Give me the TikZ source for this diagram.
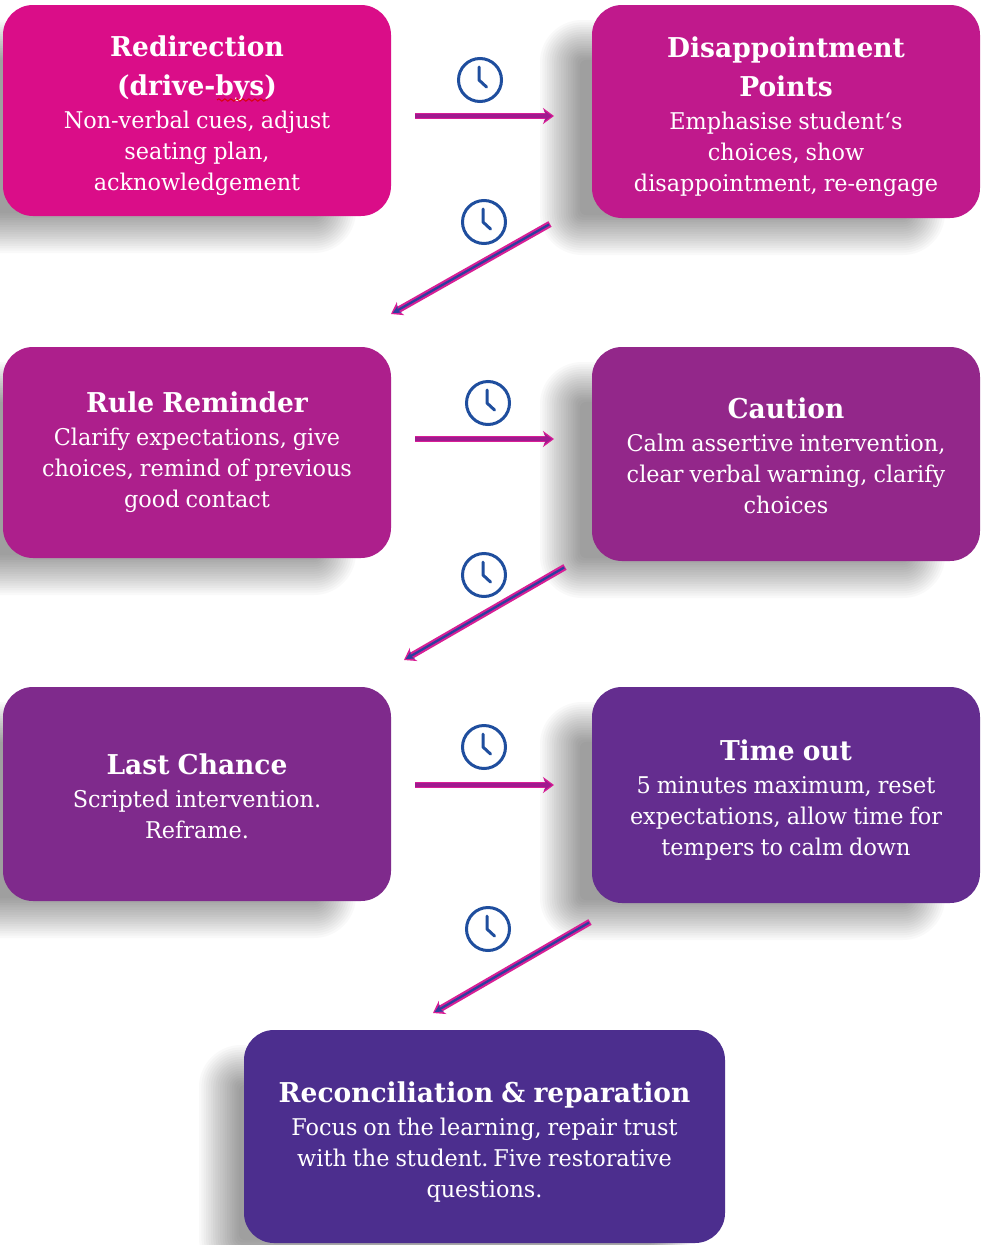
\documentclass[tikz,border=0pt]{standalone}
\usepackage{fontspec}
\usetikzlibrary{arrows.meta,decorations.pathmorphing,calc}
\newfontfamily\titlefont{DejaVu Serif}[FakeStretch=0.97]
\newfontfamily\bodyfont{DejaVu Serif}[FakeStretch=0.97]
\definecolor{cA}{HTML}{DA0D88}
\definecolor{cB}{HTML}{C0198C}
\definecolor{cC}{HTML}{AD1F8C}
\definecolor{cD}{HTML}{93278A}
\definecolor{cE}{HTML}{7F2A8C}
\definecolor{cF}{HTML}{642D8F}
\definecolor{cG}{HTML}{4C2E8E}
\definecolor{pinkedge}{HTML}{D81E96}
\definecolor{purplecore}{HTML}{A01A8E}
\definecolor{bluecore}{HTML}{2E3F9E}
\definecolor{clockblue}{HTML}{1F4E9E}
\tikzset{
  card/.style={fill=#1,rounded corners=30pt,text=white,align=center,inner sep=0pt},
  clockface/.style={circle,draw=clockblue,line width=3pt,minimum size=43pt,inner sep=0pt},
  clockhand/.style={draw=clockblue,line width=3pt,line cap=round,line join=round},
  harrowout/.style={draw=pinkedge,line width=6.5pt,-{Stealth[length=11pt,width=16pt]}},
  harrowin/.style={draw=purplecore,line width=4pt,-{Stealth[length=8pt,width=11pt]},shorten >=2pt},
  darrowout/.style={draw=pinkedge,line width=6.5pt,-{Stealth[length=11pt,width=15pt]}},
  darrowin/.style={draw=bluecore,line width=2.3pt,-{Stealth[length=8pt,width=8pt]},shorten >=2pt,shorten <=1pt},
  squiggle/.style={draw=red!85!black,line width=0.9pt,decorate,decoration={snake,amplitude=1.2pt,segment length=6pt}}
}
\newcommand{\softshadow}[4]{%
  \foreach \k in {0,...,17}{%
    \pgfmathsetmacro{\d}{20-\k*2.35}%
    \pgfmathsetmacro{\rr}{max(6,22+\d)}%
    \fill[black,opacity=0.0225,rounded corners=\rr pt]
      ({#1-\d},{#2-\d}) rectangle ({#3+\d},{#4+\d});
  }%
}
\newcommand{\cardtext}[3]{%
  {\titlefont\bfseries\fontsize{27.3}{39}\selectfont\spaceskip=0.3em\relax \rule{0pt}{\dimexpr 21pt+#1pt\relax}#2\par}%
  \vspace{2pt}%
  {\bodyfont\fontsize{23.05}{31}\selectfont\spaceskip=0.26em\relax #3\par}%
}
\newcommand{\clockat}[3]{%
  \node[clockface] (#1) at (#2,#3) {};
  \draw[clockhand] ($(#1)+(-1,-13)$) -- ($(#1)+(-1,0)$) -- ($(#1)+(6.5,7)$);
}
\begin{document}
\begin{tikzpicture}[x=1pt,y=-1pt]
\useasboundingbox (0,0) rectangle (982,1245);
\fill[white] (0,0) rectangle (982,1245);
% shadows
\softshadow{-29}{40}{336}{233}
\softshadow{560}{40}{925}{235}
\softshadow{-29}{382}{336}{575}
\softshadow{560}{382}{925}{578}
\softshadow{-29}{722}{336}{918}
\softshadow{560}{722}{925}{920}
\softshadow{219}{1065}{670}{1260}
% cards
\node[card=cA,minimum width=388pt,minimum height=211pt,text width=380pt] (r1) at (197,110.5) {\cardtext{10}{Redirection\\(drive-bys)}{Non-verbal cues, adjust\\seating plan,\\acknowledgement}};
\node[card=cB,minimum width=388pt,minimum height=213pt,text width=380pt] (r2) at (786,111.5) {\cardtext{10}{Disappointment\\Points}{Emphasise student‘s\\choices, show\\disappointment, re-engage}};
\node[card=cC,minimum width=388pt,minimum height=211pt,text width=380pt] (r3) at (197,452.5) {\cardtext{0}{Rule Reminder}{Clarify expectations, give\\choices, remind of previous\\good contact}};
\node[card=cD,minimum width=388pt,minimum height=214pt,text width=380pt] (r4) at (786,454) {\cardtext{4}{Caution}{Calm assertive intervention,\\clear verbal warning, clarify\\choices}};
\node[card=cE,minimum width=388pt,minimum height=214pt,text width=380pt] (r5) at (197,794) {\cardtext{4}{Last Chance}{Scripted intervention.\\Reframe.}};
\node[card=cF,minimum width=388pt,minimum height=216pt,text width=380pt] (r6) at (786,795) {\cardtext{9}{Time out}{5 minutes maximum, reset\\expectations, allow time for\\tempers to calm down}};
\node[card=cG,minimum width=481pt,minimum height=213pt,text width=470pt] (r7) at (484.5,1136.5) {\cardtext{10}{Reconciliation \& reparation}{Focus on the learning, repair trust\\with the student. Five restorative\\questions.}};
% spell-check mark
\coordinate (sqa) at (217,100);
\coordinate (sqb) at (268,100);
\draw[squiggle] (sqa) -- (sqb);
% connector ends
\coordinate (a1s) at (415,116); \coordinate (a1e) at (554,116);
\coordinate (a2s) at (550,224); \coordinate (a2e) at (391,314);
\coordinate (a3s) at (415,439); \coordinate (a3e) at (554,439);
\coordinate (a4s) at (565,567); \coordinate (a4e) at (404,660);
\coordinate (a5s) at (415,785); \coordinate (a5e) at (554,785);
\coordinate (a6s) at (590,922); \coordinate (a6e) at (433,1013);
\foreach \n in {1,3,5}{
  \draw[harrowout] (a\n s) -- (a\n e);
  \draw[harrowin] (a\n s) -- (a\n e);
}
\foreach \n in {2,4,6}{
  \draw[darrowout] (a\n s) -- (a\n e);
  \draw[darrowin] (a\n s) -- (a\n e);
}
% clocks
\clockat{c1}{480}{80}
\clockat{c2}{484}{222}
\clockat{c3}{488}{403}
\clockat{c4}{484}{575}
\clockat{c5}{484}{747}
\clockat{c6}{488}{929}
\end{tikzpicture}
\end{document}
